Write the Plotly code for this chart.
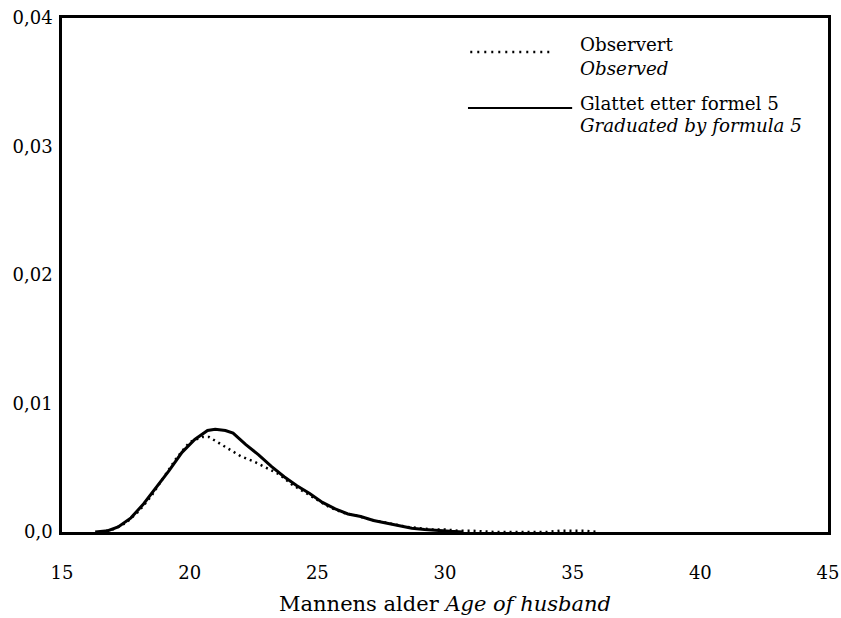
import plotly.graph_objects as go

# Age of husband (years) and relative frequency
obs_age = [16.5, 17.0, 17.5, 18.0, 18.5, 19.0, 19.5, 20.0, 20.5, 20.75, 21.0, 21.5,
           22.0, 22.5, 23.0, 23.5, 24.0, 24.5, 25.0, 25.5, 26.0, 26.5, 27.0, 27.5,
           28.0, 28.5, 29.0, 29.5, 30.0, 30.5, 31.0, 31.5, 32.0, 34.0, 34.5, 35.0,
           35.5, 36.0]
obs_val = [0.0, 0.0002, 0.0007, 0.0016, 0.0028, 0.0043, 0.0058, 0.0070, 0.0074, 0.0074,
           0.0071, 0.0065, 0.0059, 0.0055, 0.0050, 0.0045, 0.0037, 0.0031, 0.0025,
           0.0019, 0.0015, 0.0013, 0.0010, 0.0008, 0.0006, 0.0004, 0.0003, 0.0002,
           0.0002, 0.0001, 0.0001, 0.00005, 0.0, 0.0, 0.0001, 0.0001, 0.0001, 0.0]

fit_age = [16.3, 16.8, 17.2, 17.7, 18.2, 18.7, 19.2, 19.7, 20.2, 20.7, 21.0, 21.4,
           21.7, 22.2, 22.7, 23.2, 23.7, 24.2, 24.7, 25.2, 25.7, 26.2, 26.7, 27.2,
           27.7, 28.2, 28.7, 29.2, 29.7, 30.2, 30.7]
fit_val = [0.0, 0.0001, 0.0004, 0.0011, 0.0022, 0.0035, 0.0048, 0.0062, 0.0072, 0.0079,
           0.0080, 0.0079, 0.0077, 0.0068, 0.0060, 0.0051, 0.0043, 0.0036, 0.0030,
           0.0023, 0.0018, 0.0014, 0.0012, 0.0009, 0.0007, 0.0005, 0.0003, 0.0002,
           0.0001, 0.00005, 0.0]

x_ticks = [15, 20, 25, 30, 35, 40, 45]
y_ticks = [0.0, 0.01, 0.02, 0.03, 0.04]
y_tick_text = ["0,0", "0,01", "0,02", "0,03", "0,04"]

key_lines = [("Observert", False), ("Observed", True),
             ("Glattet etter formel 5", False), ("Graduated by formula 5", True)]
key_y = [0.9475, 0.9027, 0.8346, 0.7899]

FONT = "DejaVu Serif"

fig = go.Figure()
fig.add_trace(go.Scatter(x=fit_age, y=fit_val, mode="lines",
                         line=dict(color="black", width=3), showlegend=False))
fig.add_trace(go.Scatter(x=obs_age, y=obs_val, mode="lines",
                         line=dict(color="black", width=2.5, dash="2px,4px"),
                         showlegend=False))

# Hand-made key in the upper right corner
fig.add_shape(type="line", xref="paper", yref="paper", x0=0.533, x1=0.640,
              y0=0.934, y1=0.934, line=dict(color="black", width=2.5, dash="2px,5px"))
fig.add_shape(type="line", xref="paper", yref="paper", x0=0.530, x1=0.666,
              y0=0.825, y1=0.825, line=dict(color="black", width=2))
for (txt, ital), yy in zip(key_lines, key_y):
    fig.add_annotation(xref="paper", yref="paper", x=0.6736, y=yy, xanchor="left",
                       yanchor="middle", align="left", showarrow=False,
                       text=f"<i>{txt}</i>" if ital else txt,
                       font=dict(family=FONT, size=18.3, color="black"))

fig.update_layout(
    width=841, height=618,
    margin=dict(l=62, r=13, t=18, b=86, autoexpand=False),
    paper_bgcolor="white", plot_bgcolor="white",
    font=dict(family=FONT, size=18, color="black"),
    xaxis=dict(range=[15, 45], tickvals=x_ticks, showgrid=False, zeroline=False,
               showline=True, mirror=True, linecolor="black", linewidth=2.5,
               ticks="", ticklabelstandoff=23, tickfont=dict(size=18),
               title=dict(text="Mannens alder <i>Age of husband</i>",
                          font=dict(family=FONT, size=21), standoff=14)),
    yaxis=dict(range=[0, 0.04], tickvals=y_ticks, ticktext=y_tick_text,
               showgrid=False, zeroline=False, showline=True, mirror=True,
               linecolor="black", linewidth=2.5, ticks="", ticklabelstandoff=3,
               tickfont=dict(size=18)),
)

fig.write_html("out.html")
